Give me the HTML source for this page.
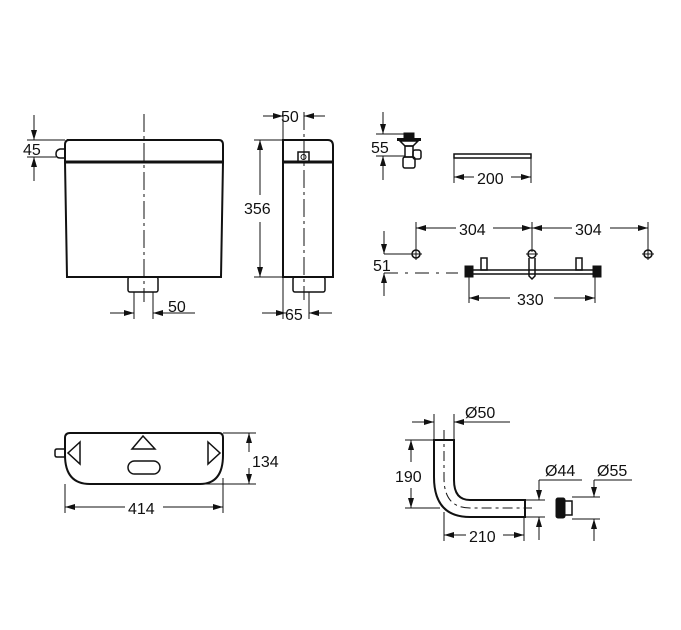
<!DOCTYPE html>
<html><head><meta charset="utf-8"><style>
html,body{margin:0;padding:0;background:#fff;width:681px;height:630px;overflow:hidden}
svg{display:block}
text{font-family:"Liberation Sans",sans-serif;font-size:16px;fill:#111}
</style></head><body>
<svg width="681" height="630" viewBox="0 0 681 630" xmlns="http://www.w3.org/2000/svg">
<defs>
<marker id="a" viewBox="0 0 10 6" refX="10" refY="3" markerWidth="10" markerHeight="6" orient="auto" markerUnits="userSpaceOnUse"><path d="M0,0L10,3L0,6z" fill="#111"/></marker>
</defs>
<g stroke="#111" fill="none" stroke-width="1">
<path d="M67,140 H219 Q223,140 223,145 V162 L221,277 H67 L65,162 V145 Q65,140 69,140Z" stroke-width="2"/>
<line x1="65" y1="162" x2="223" y2="162" stroke-width="3"/>
<path d="M65,149 H60 Q56,150 56,154 Q56,158 60,158 H65" stroke-width="1.5"/>
<line x1="144" y1="114" x2="144" y2="302" stroke-dasharray="18,4,3,4"/>
<rect x="128" y="277" width="30" height="15" rx="2" stroke-width="1.5"/>
<line x1="134" y1="292" x2="134" y2="319"/><line x1="153" y1="292" x2="153" y2="319"/>
<line x1="110" y1="313" x2="134" y2="313" marker-end="url(#a)"/>
<line x1="195" y1="313" x2="153" y2="313" marker-end="url(#a)"/>
<line x1="27" y1="140" x2="65" y2="140"/><line x1="27" y1="157" x2="56" y2="157"/>
<line x1="34" y1="115" x2="34" y2="140" marker-end="url(#a)"/>
<line x1="34" y1="181" x2="34" y2="157" marker-end="url(#a)"/>
<path d="M283,140 H328 Q333,140 333,146 V277 H283Z" stroke-width="2"/>
<line x1="283" y1="162" x2="333" y2="162" stroke-width="3"/>
<rect x="298" y="152" width="11" height="10" stroke-width="1.5"/>
<circle cx="303.5" cy="157" r="2.5"/>
<line x1="304" y1="112" x2="304" y2="300" stroke-dasharray="18,4,3,4"/>
<rect x="293" y="277" width="32" height="15" rx="2" stroke-width="1.5"/>
<line x1="283" y1="112" x2="283" y2="319"/>
<line x1="263" y1="116" x2="283" y2="116" marker-end="url(#a)"/>
<line x1="325" y1="116" x2="304" y2="116" marker-end="url(#a)"/>
<line x1="254" y1="140" x2="283" y2="140"/><line x1="254" y1="277" x2="283" y2="277"/>
<line x1="260" y1="195" x2="260" y2="140" marker-end="url(#a)"/>
<line x1="260" y1="222" x2="260" y2="277" marker-end="url(#a)"/>
<line x1="309" y1="292" x2="309" y2="319"/>
<line x1="262" y1="313" x2="286" y2="313" marker-end="url(#a)"/>
<line x1="332" y1="313" x2="309" y2="313" marker-end="url(#a)"/>
<line x1="376" y1="134" x2="405" y2="134"/><line x1="376" y1="156" x2="405" y2="156"/>
<line x1="383" y1="112" x2="383" y2="134" marker-end="url(#a)"/>
<line x1="383" y1="180" x2="383" y2="156" marker-end="url(#a)"/>
<rect x="404" y="133" width="10" height="5" fill="#111"/>
<rect x="397" y="138" width="24" height="3" fill="#111" stroke="none"/>
<path d="M400,141 H418 L413,146 H405Z" stroke-width="1.5"/>
<rect x="405" y="146" width="8" height="11" stroke-width="1.5"/>
<rect x="413" y="150" width="8" height="9" rx="2" stroke-width="1.5"/>
<rect x="403" y="157" width="12" height="11" rx="2" stroke-width="1.5"/>
<rect x="454" y="154" width="77" height="4" stroke-width="1.5"/>
<line x1="454" y1="158" x2="454" y2="183"/><line x1="531" y1="158" x2="531" y2="183"/>
<line x1="474" y1="177" x2="454" y2="177" marker-end="url(#a)"/>
<line x1="511" y1="177" x2="531" y2="177" marker-end="url(#a)"/>
<line x1="416" y1="222" x2="416" y2="260"/><line x1="532" y1="222" x2="532" y2="252"/><line x1="648" y1="222" x2="648" y2="260"/>
<line x1="456" y1="228" x2="416" y2="228" marker-end="url(#a)"/>
<line x1="493" y1="228" x2="532" y2="228" marker-end="url(#a)"/>
<line x1="572" y1="228" x2="532" y2="228" marker-end="url(#a)"/>
<line x1="610" y1="228" x2="648" y2="228" marker-end="url(#a)"/>
<circle cx="416" cy="254" r="4" stroke-width="1.5"/><line x1="410" y1="254" x2="422" y2="254"/>
<circle cx="532" cy="254" r="4" stroke-width="1.5"/><line x1="526" y1="254" x2="538" y2="254"/>
<circle cx="648" cy="254" r="4" stroke-width="1.5"/><line x1="642" y1="254" x2="654" y2="254"/>
<line x1="384" y1="254" x2="410" y2="254"/>
<line x1="384" y1="231" x2="384" y2="254" marker-end="url(#a)"/>
<line x1="384" y1="296" x2="384" y2="273" marker-end="url(#a)"/>
<line x1="384" y1="273" x2="458" y2="273" stroke-dasharray="14,7,3,7"/>
<rect x="470" y="270" width="126" height="4" stroke-width="1.5"/>
<rect x="465" y="266" width="8" height="11" fill="#111"/>
<rect x="593" y="266" width="8" height="11" fill="#111"/>
<rect x="481" y="258" width="6" height="12" stroke-width="1.5"/>
<rect x="576" y="258" width="6" height="12" stroke-width="1.5"/>
<path d="M529,258 V276 L532,279 L535,276 V258" stroke-width="1.5"/>
<line x1="469" y1="277" x2="469" y2="303"/><line x1="595" y1="277" x2="595" y2="303"/>
<line x1="510" y1="298" x2="469" y2="298" marker-end="url(#a)"/>
<line x1="554" y1="298" x2="595" y2="298" marker-end="url(#a)"/>
<path d="M70,433 H219 Q223,433 223,438 V455 Q223,484 200,484 H90 Q65,484 65,455 V438 Q65,433 70,433Z" stroke-width="2"/>
<path d="M65,449 H57 Q55,449 55,451 V455 Q55,457 57,457 H65" stroke-width="1.5"/>
<path d="M80,442 L68,453 L80,464Z" stroke-width="1.5"/>
<path d="M208,442 L220,453 L208,464Z" stroke-width="1.5"/>
<path d="M143,436 L155,449 H132Z" stroke-width="1.5"/>
<rect x="128" y="461" width="32" height="13" rx="6.5" stroke-width="1.5"/>
<line x1="223" y1="433" x2="256" y2="433"/><line x1="200" y1="484" x2="256" y2="484"/>
<line x1="249" y1="452" x2="249" y2="433" marker-end="url(#a)"/>
<line x1="249" y1="468" x2="249" y2="484" marker-end="url(#a)"/>
<line x1="65" y1="484" x2="65" y2="513"/><line x1="223" y1="478" x2="223" y2="513"/>
<line x1="125" y1="507" x2="65" y2="507" marker-end="url(#a)"/>
<line x1="163" y1="507" x2="223" y2="507" marker-end="url(#a)"/>
<path d="M434,440 V477 Q434,517 470,517 H525 V500 H470 Q454,500 454,480 V440 Z" stroke-width="2"/>
<path d="M444,430 V478 Q444,508 470,508 H532" stroke-dasharray="10,4,3,4"/>
<line x1="412" y1="422" x2="434" y2="422" marker-end="url(#a)"/>
<line x1="510" y1="422" x2="454" y2="422" marker-end="url(#a)"/>
<line x1="434" y1="414" x2="434" y2="440"/><line x1="454" y1="414" x2="454" y2="440"/>
<line x1="405" y1="440" x2="434" y2="440"/><line x1="405" y1="508" x2="440" y2="508"/>
<line x1="411" y1="462" x2="411" y2="440" marker-end="url(#a)"/>
<line x1="411" y1="488" x2="411" y2="508" marker-end="url(#a)"/>
<line x1="444" y1="512" x2="444" y2="541"/><line x1="524" y1="517" x2="524" y2="541"/>
<line x1="466" y1="535" x2="444" y2="535" marker-end="url(#a)"/>
<line x1="503" y1="535" x2="524" y2="535" marker-end="url(#a)"/>
<line x1="525" y1="500" x2="545" y2="500"/><line x1="525" y1="517" x2="545" y2="517"/>
<line x1="539" y1="480" x2="582" y2="480"/>
<line x1="539" y1="480" x2="539" y2="500" marker-end="url(#a)"/>
<line x1="539" y1="540" x2="539" y2="517" marker-end="url(#a)"/>
<rect x="556" y="498" width="9" height="20" rx="2" fill="#111"/>
<rect x="564" y="501" width="8" height="14" stroke-width="1.5"/>
<line x1="572" y1="497" x2="600" y2="497"/><line x1="572" y1="519" x2="600" y2="519"/>
<line x1="594" y1="480" x2="632" y2="480"/>
<line x1="594" y1="480" x2="594" y2="497" marker-end="url(#a)"/>
<line x1="594" y1="541" x2="594" y2="519" marker-end="url(#a)"/>
</g>
<g>
<text x="23" y="155">45</text>
<text x="168" y="312">50</text>
<text x="281" y="122">50</text>
<text x="244" y="214">356</text>
<text x="285" y="320">65</text>
<text x="371" y="153">55</text>
<text x="477" y="184">200</text>
<text x="459" y="235">304</text>
<text x="575" y="235">304</text>
<text x="373" y="271">51</text>
<text x="517" y="305">330</text>
<text x="252" y="467">134</text>
<text x="128" y="514">414</text>
<text x="465" y="418">Ø50</text>
<text x="395" y="482">190</text>
<text x="469" y="542">210</text>
<text x="545" y="476">Ø44</text>
<text x="597" y="476">Ø55</text>
</g>
</svg>
</body></html>
